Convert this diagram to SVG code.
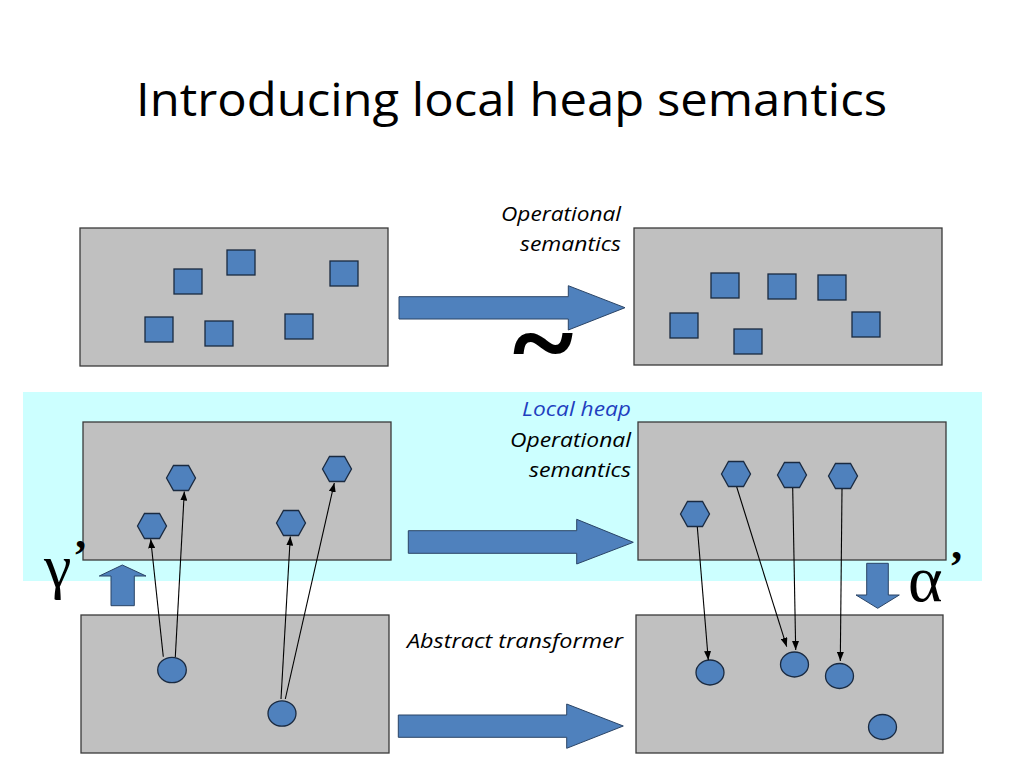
<svg xmlns="http://www.w3.org/2000/svg" xmlns:xlink="http://www.w3.org/1999/xlink" width="1024" height="768" viewBox="0 0 1024 768">
<style>
.box{fill:#C0C0C0;stroke:#3A3A3A;stroke-width:1.3}
.obj{fill:#4F81BD;stroke:#1A2A40;stroke-width:1.3}
.barrow{fill:#4F81BD;stroke:#2A4466;stroke-width:1}
.conn{stroke:#000;stroke-width:1.1;fill:none;marker-end:url(#ah)}
.lbl{font-family:"Open Sans","Liberation Sans",sans-serif;font-style:italic;font-size:20px;fill:#000}
.title{font-family:"Open Sans","Liberation Sans",sans-serif;font-size:46px;fill:#000}
.greek{font-family:"Liberation Serif","DejaVu Serif",serif;fill:#000}
</style>
<defs>
<marker id="ah" markerWidth="9" markerHeight="7" refX="9" refY="3.5" orient="auto" markerUnits="userSpaceOnUse">
<path d="M0,0 L9,3.5 L0,7 z" fill="#000"/>
</marker>
<polygon id="hex" points="-14.5,0 -7.5,-12.5 7.5,-12.5 14.5,0 7.5,12.5 -7.5,12.5"/>
<rect id="sq" width="28" height="25"/>
</defs>
<rect width="1024" height="768" fill="#fff"/>
<text class="title" x="136" y="116" textLength="751" lengthAdjust="spacingAndGlyphs">Introducing local heap semantics</text>
<rect id="local-band" x="23" y="392" width="959" height="189" fill="#CCFFFF"/>

<g id="box-concrete-before">
<rect class="box" x="80" y="228" width="308" height="138"/>
<use href="#sq" class="obj" x="174" y="269"/>
<use href="#sq" class="obj" x="227" y="250"/>
<use href="#sq" class="obj" x="330" y="261"/>
<use href="#sq" class="obj" x="145" y="317"/>
<use href="#sq" class="obj" x="205" y="321"/>
<use href="#sq" class="obj" x="285" y="314"/>
</g>
<g id="box-concrete-after">
<rect class="box" x="634" y="228" width="308" height="137"/>
<use href="#sq" class="obj" x="711" y="273"/>
<use href="#sq" class="obj" x="768" y="274"/>
<use href="#sq" class="obj" x="818" y="275"/>
<use href="#sq" class="obj" x="670" y="313"/>
<use href="#sq" class="obj" x="734" y="329"/>
<use href="#sq" class="obj" x="852" y="312"/>
</g>
<g id="box-local-before">
<rect class="box" x="83" y="422" width="308" height="138"/>
<use href="#hex" class="obj" x="181" y="478"/>
<use href="#hex" class="obj" x="152" y="526"/>
<use href="#hex" class="obj" x="291" y="523"/>
<use href="#hex" class="obj" x="337" y="469"/>
</g>
<g id="box-local-after">
<rect class="box" x="638" y="422" width="308" height="138"/>
<use href="#hex" class="obj" x="736" y="474"/>
<use href="#hex" class="obj" x="792" y="475"/>
<use href="#hex" class="obj" x="843" y="476"/>
<use href="#hex" class="obj" x="695" y="514"/>
</g>
<g id="box-abstract-before">
<rect class="box" x="81" y="615" width="308" height="138"/>
<ellipse class="obj" cx="172" cy="670" rx="14.3" ry="12.7"/>
<ellipse class="obj" cx="282" cy="713.5" rx="14" ry="12.7"/>
</g>
<g id="box-abstract-after">
<rect class="box" x="636" y="615" width="307" height="138"/>
<ellipse class="obj" cx="710" cy="672.5" rx="14" ry="12.5"/>
<ellipse class="obj" cx="794.5" cy="664.5" rx="14" ry="12.5"/>
<ellipse class="obj" cx="839.5" cy="676" rx="14" ry="12.5"/>
<ellipse class="obj" cx="882.5" cy="727" rx="14" ry="12.5"/>
</g>

<g id="transitions">
<polygon class="barrow" points="399,296.7 568.3,296.7 568.3,285.7 625,307.7 568.3,330 568.3,319 399,319"/>
<polygon class="barrow" points="408.3,530.7 576.7,530.7 576.7,519.3 633.3,542.3 576.7,564 576.7,553.3 408.3,553.3"/>
<polygon class="barrow" points="398.3,715 566.7,715 566.7,704 623.3,726 566.7,748.3 566.7,737.3 398.3,737.3"/>
<polygon class="barrow" points="122.3,565 146,576 134.3,576 134.3,605.7 111,605.7 111,576 99.3,576"/>
<polygon class="barrow" points="866.7,563.3 888.3,563.3 888.3,595 899.3,595 877.7,608.3 856,595 866.7,595"/>
</g>

<g id="connectors">
<line class="conn" x1="163.3" y1="656.7" x2="150.7" y2="539.3"/>
<line class="conn" x1="175.3" y1="657" x2="184.3" y2="491.5"/>
<line class="conn" x1="281" y1="699" x2="290.3" y2="536.5"/>
<line class="conn" x1="285.3" y1="699" x2="334.3" y2="483"/>
<line class="conn" x1="697.3" y1="527" x2="708.3" y2="660"/>
<line class="conn" x1="736.7" y1="487" x2="786.7" y2="646.7"/>
<line class="conn" x1="792.7" y1="488" x2="795.7" y2="650"/>
<line class="conn" x1="842" y1="489" x2="840.3" y2="661"/>
</g>

<g id="labels">
<text class="lbl" x="621" y="221" text-anchor="end" textLength="120" lengthAdjust="spacingAndGlyphs">Operational</text>
<text class="lbl" x="621" y="251" text-anchor="end" textLength="101" lengthAdjust="spacingAndGlyphs">semantics</text>
<text class="lbl" x="631" y="416" text-anchor="end" textLength="109" lengthAdjust="spacingAndGlyphs" style="fill:#1F3FBF">Local heap</text>
<text class="lbl" x="631" y="447" text-anchor="end" textLength="121" lengthAdjust="spacingAndGlyphs">Operational</text>
<text class="lbl" x="631" y="477" text-anchor="end" textLength="102" lengthAdjust="spacingAndGlyphs">semantics</text>
<text class="lbl" x="407" y="648" textLength="216" lengthAdjust="spacingAndGlyphs">Abstract transformer</text>
<text class="greek" x="514" y="376" font-size="100" font-weight="bold" stroke="#000" stroke-width="2" textLength="58" lengthAdjust="spacingAndGlyphs">~</text>
<text class="greek" x="44" y="587" font-size="62">γ</text>
<text class="greek" x="73" y="570" font-size="44" font-weight="bold">’</text>
<text class="greek" x="908" y="601" font-size="66">α</text>
<text class="greek" x="949" y="581" font-size="44" font-weight="bold">’</text>
</g>
</svg>
